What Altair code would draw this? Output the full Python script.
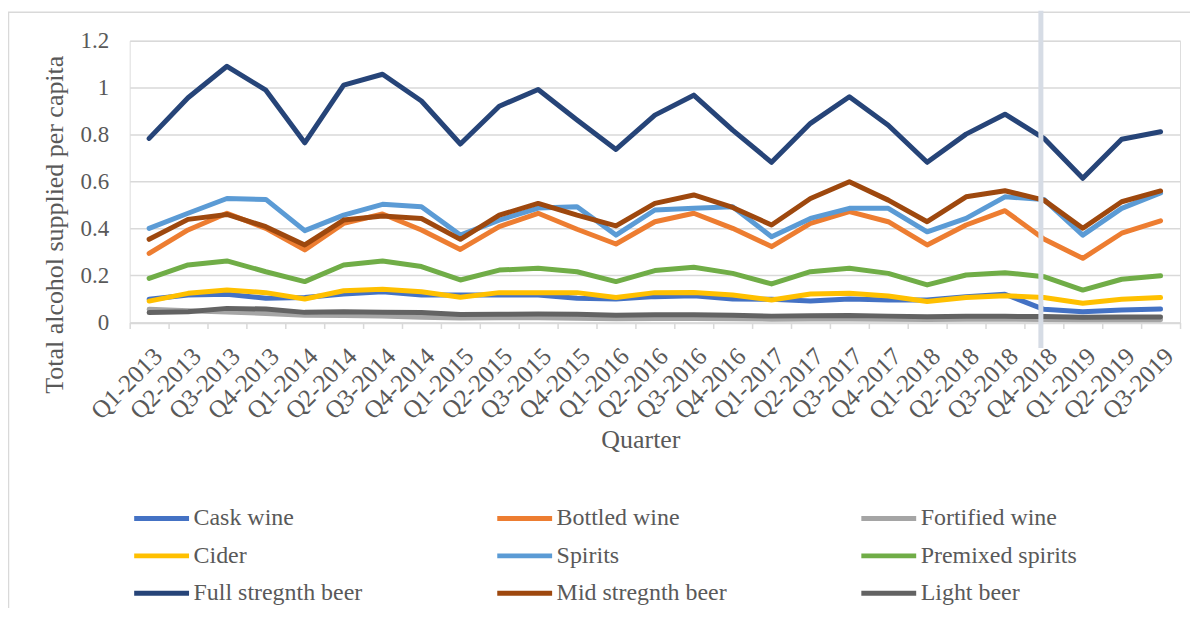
import altair as alt
import pandas as pd

quarters = [f"Q{q}-{y}" for y in range(2013, 2019) for q in range(1, 5)] + ["Q1-2019", "Q2-2019", "Q3-2019"]

series_names = ["Cask wine", "Bottled wine", "Fortified wine", "Cider", "Spirits",
                "Premixed spirits", "Full stregnth beer", "Mid stregnth beer", "Light beer"]
series_colors = ["#4472C4", "#ED7D31", "#A5A5A5", "#FFC000", "#5B9BD5",
                 "#70AD47", "#264478", "#9E480E", "#636363"]

cask_wine = [0.099, 0.117, 0.120, 0.103, 0.106, 0.121, 0.131, 0.117, 0.117, 0.117, 0.117, 0.103, 0.100, 0.110,
             0.114, 0.100, 0.099, 0.091, 0.100, 0.096, 0.096, 0.110, 0.120, 0.056, 0.046, 0.053, 0.057]
bottled_wine = [0.294, 0.394, 0.465, 0.401, 0.309, 0.422, 0.462, 0.394, 0.311, 0.408, 0.465, 0.397, 0.334, 0.429,
                0.465, 0.401, 0.323, 0.422, 0.472, 0.429, 0.330, 0.415, 0.476, 0.355, 0.273, 0.380, 0.433]
fortified_wine = [0.056, 0.050, 0.045, 0.038, 0.031, 0.030, 0.028, 0.022, 0.019, 0.020, 0.020, 0.018, 0.016, 0.017,
                  0.017, 0.016, 0.014, 0.015, 0.015, 0.014, 0.013, 0.014, 0.014, 0.013, 0.011, 0.012, 0.012]
cider = [0.091, 0.124, 0.138, 0.127, 0.100, 0.135, 0.141, 0.131, 0.107, 0.127, 0.127, 0.127, 0.106, 0.127,
         0.128, 0.117, 0.096, 0.121, 0.124, 0.113, 0.089, 0.106, 0.114, 0.106, 0.082, 0.099, 0.106]
spirits = [0.401, 0.465, 0.528, 0.524, 0.391, 0.457, 0.503, 0.493, 0.372, 0.436, 0.487, 0.493, 0.372, 0.479,
           0.486, 0.493, 0.365, 0.443, 0.486, 0.486, 0.386, 0.443, 0.535, 0.524, 0.372, 0.486, 0.552]
premixed_spirits = [0.188, 0.245, 0.262, 0.216, 0.174, 0.245, 0.262, 0.238, 0.181, 0.223, 0.231, 0.216, 0.174, 0.221,
                    0.235, 0.209, 0.164, 0.216, 0.231, 0.209, 0.160, 0.202, 0.212, 0.195, 0.138, 0.184, 0.199]
full_strength_beer = [0.784, 0.957, 1.091, 0.989, 0.765, 1.011, 1.057, 0.943, 0.760, 0.921, 0.992, 0.862, 0.737, 0.883,
                      0.968, 0.819, 0.682, 0.848, 0.961, 0.840, 0.682, 0.802, 0.887, 0.784, 0.614, 0.780, 0.812]
mid_strength_beer = [0.354, 0.439, 0.460, 0.408, 0.330, 0.436, 0.453, 0.443, 0.354, 0.457, 0.507, 0.457, 0.411, 0.507,
                     0.543, 0.490, 0.415, 0.528, 0.599, 0.521, 0.429, 0.535, 0.561, 0.521, 0.401, 0.514, 0.560]
light_beer = [0.042, 0.046, 0.060, 0.057, 0.043, 0.046, 0.044, 0.042, 0.034, 0.035, 0.036, 0.035, 0.031, 0.033,
              0.033, 0.031, 0.027, 0.029, 0.030, 0.027, 0.024, 0.026, 0.026, 0.025, 0.022, 0.023, 0.023]

all_values = [cask_wine, bottled_wine, fortified_wine, cider, spirits,
              premixed_spirits, full_strength_beer, mid_strength_beer, light_beer]

y_ticks = [0, 0.2, 0.4, 0.6, 0.8, 1.0, 1.2]
marker_quarter = ["Q4-2018"]

rows = []
for name, vals in zip(series_names, all_values):
    for q, v in zip(quarters, vals):
        rows.append({"series": name, "quarter": q, "value": v})
df = pd.DataFrame(rows)

FONT = "Liberation Serif"
TXT = "#595959"
GRID = "#D9D9D9"
W, H = 1053, 282.5

x_scale = alt.Scale(type="band", paddingInner=0, paddingOuter=0)

frame = alt.Chart(pd.DataFrame({"k": [0]})).mark_rect(
    filled=False, stroke=GRID, strokeWidth=1.5
).encode(
    x=alt.value(-121.5), x2=alt.value(1300), y=alt.value(-28.5), y2=alt.value(800)
)

lines = alt.Chart(df).mark_line(strokeWidth=5, strokeJoin="round", strokeCap="round").encode(
    x=alt.X("quarter:N", sort=quarters, scale=x_scale,
            title="Quarter",
            axis=alt.Axis(labelAngle=-45, labelAlign="right", labelBaseline="top",
                          labelPadding=15, tickBand="extent", tickSize=6, tickColor=GRID,
                          tickWidth=1.5, domainColor=GRID, domainWidth=1.5,
                          labelFont=FONT, labelFontSize=25, labelColor=TXT,
                          titleFont=FONT, titleFontSize=26, titleColor=TXT, titleFontWeight="normal",
                          titleX=512, titleY=117.5, titleBaseline="middle", titleAlign="center",
                          labelOverlap=False)),
    y=alt.Y("value:Q", scale=alt.Scale(domain=[0, 1.2], nice=False, zero=True),
            title="Total alcohol supplied per capita",
            axis=alt.Axis(values=y_ticks, format="~g", tickSize=0, domain=False,
                          gridColor=GRID, gridWidth=1.5, labelPadding=21,
                          labelFont=FONT, labelFontSize=23, labelColor=TXT,
                          titleFont=FONT, titleFontSize=26, titleColor=TXT, titleFontWeight="normal",
                          titleX=-67, titleY=184, titleAlign="center", titleBaseline="alphabetic")),
    color=alt.Color("series:N", sort=series_names,
                    scale=alt.Scale(domain=series_names, range=series_colors),
                    legend=alt.Legend(title=None, orient="none", legendX=20, legendY=467,
                                      direction="horizontal",
                                      columns=3, columnPadding=124, rowPadding=13.5,
                                      symbolType="M-5,0L5,0", symbolSize=121, symbolStrokeWidth=5,
                                      labelOffset=20, labelFont=FONT, labelFontSize=24,
                                      labelColor=TXT, padding=0, labelLimit=400)),
    detail="series:N",
)

band = alt.Chart(pd.DataFrame({"quarter": marker_quarter})).mark_rule(
    color="#D6DCE5", strokeWidth=5, xOffset=-3
).encode(
    x=alt.X("quarter:N", sort=quarters, scale=x_scale),
    y=alt.value(-30), y2=alt.value(308),
)

chart = alt.layer(frame, lines, band).properties(
    width=W, height=H,
    autosize=alt.AutoSizeParams(type="none"),
    padding={"left": 122, "top": 32, "right": 10, "bottom": 285.5},
).configure_view(stroke=None).configure(background="white")

chart.save("out.html", embed_options={"renderer": "svg", "actions": False})
